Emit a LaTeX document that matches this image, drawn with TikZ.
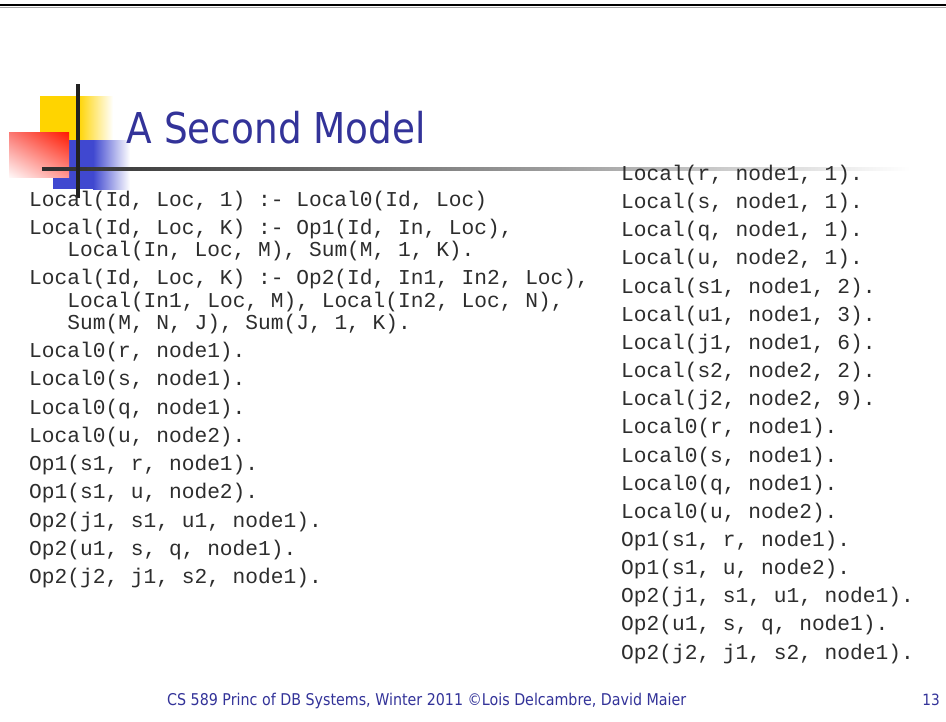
\documentclass[tikz,border=0pt]{standalone}
\usepackage{graphicx}
\usepackage{fontspec}
\usetikzlibrary{shadings}
\setmonofont{Liberation Mono}
\newfontfamily\titlefont[FakeStretch=0.88]{DejaVu Sans}
\definecolor{navy}{RGB}{51,51,153}
\definecolor{yellowc}{RGB}{255,212,0}
\definecolor{bluec}{RGB}{64,72,208}
\definecolor{redUL}{RGB}{250,120,115}
\definecolor{redUR}{RGB}{255,25,0}
\definecolor{redLL}{RGB}{255,248,248}
\definecolor{redLR}{RGB}{255,150,145}
\definecolor{codec}{RGB}{45,45,45}
\begin{document}
\begin{tikzpicture}[x=1pt,y=-1pt,
  code/.style={anchor=base west,inner sep=0pt,text=codec,font=\fontsize{21.2}{21.2}\ttfamily},
  plain/.style={anchor=base west,inner sep=0pt,text=navy}]
\useasboundingbox (0,0) rectangle (946,721);
\fill[white] (0,0) rectangle (946,721);
% top rule
\fill[black] (0,3.5) rectangle (946,6.3);
\fill[black!35] (0,6.6) rectangle (946,7.4);
% logo
\fill[yellowc] (40,96) rectangle (78,141);
\shade[left color=yellowc,right color=white] (78,96) rectangle (113,141);
\fill[bluec] (53,140) rectangle (93,189);
\shade[left color=bluec,right color=white] (93,140) rectangle (130,189);
\shade[upper left=redUL,upper right=redUR,lower left=redLL,lower right=redLR]
  (9,132) rectangle (69,177);
\shade[left color=black!82,right color=black!38] (42,167.6) rectangle (560,170.6);
\shade[left color=black!38,right color=white] (560,167.6) rectangle (910,170.6);
\fill[black!87] (76.3,84) rectangle (79.7,198);
% title
\node[plain] (title) at (126.5,143) {\titlefont\fontsize{42.5}{42.5}\selectfont A Second Model};
% left column
\node[code] (l1) at (29,206) {Local(Id, Loc, 1) :- Local0(Id, Loc)};
\node[code] (l2) at (29,234) {Local(Id, Loc, K) :- Op1(Id, In, Loc),};
\node[code] (l3) at (67.2,256.5) {Local(In, Loc, M), Sum(M, 1, K).};
\node[code] (l4) at (29,284.5) {Local(Id, Loc, K) :- Op2(Id, In1, In2, Loc),};
\node[code] (l5) at (67.2,307) {Local(In1, Loc, M), Local(In2, Loc, N),};
\node[code] (l6) at (67.2,329.5) {Sum(M, N, J), Sum(J, 1, K).};
\foreach \t [count=\i] in {{Local0(r, node1).},{Local0(s, node1).},{Local0(q, node1).},{Local0(u, node2).},
  {Op1(s1, r, node1).},{Op1(s1, u, node2).},{Op2(j1, s1, u1, node1).},{Op2(u1, s, q, node1).},{Op2(j2, j1, s2, node1).}}
  {\node[code] (f\i) at (29,{357.5+28.25*(\i-1)}) {\t};}
% right column
\foreach \t [count=\i] in {{Local(r, node1, 1).},{Local(s, node1, 1).},{Local(q, node1, 1).},{Local(u, node2, 1).},
  {Local(s1, node1, 2).},{Local(u1, node1, 3).},{Local(j1, node1, 6).},{Local(s2, node2, 2).},{Local(j2, node2, 9).},
  {Local0(r, node1).},{Local0(s, node1).},{Local0(q, node1).},{Local0(u, node2).},
  {Op1(s1, r, node1).},{Op1(s1, u, node2).},{Op2(j1, s1, u1, node1).},{Op2(u1, s, q, node1).},{Op2(j2, j1, s2, node1).}}
  {\node[code] (r\i) at (621,{180.5+28.15*(\i-1)}) {\t};}
% footer
\node[plain] (foot) at (167,705) {\resizebox{519pt}{!}{\titlefont\fontsize{15}{15}\selectfont CS 589 Princ of DB Systems, Winter 2011 \textcopyright Lois Delcambre, David Maier}};
\node[plain,anchor=base east] (page) at (940,705) {\titlefont\fontsize{15.5}{15.5}\selectfont 13};
\end{tikzpicture}
\end{document}
